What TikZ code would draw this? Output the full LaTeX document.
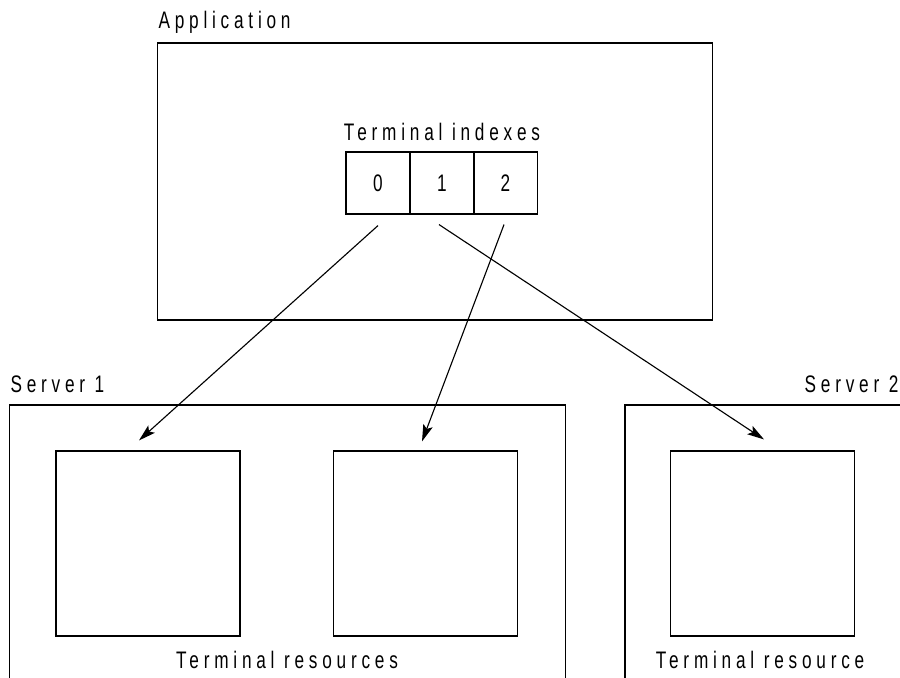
\documentclass[tikz,border=0pt]{standalone}
\usepackage{fontspec}
\setmainfont{Liberation Sans}[FakeStretch=0.72,LetterSpace=20]
\usetikzlibrary{arrows.meta, calc}

\begin{document}
\begin{tikzpicture}[x=0.025cm,y=-0.025cm,line width=0.8pt,
  box/.style={draw,rectangle,inner sep=0pt},
  lbl/.style={inner sep=0pt,font=\fontsize{17}{20}\selectfont},
  arrow/.style={-{Stealth[length=12pt,width=7pt,inset=2.5pt]}}]
\useasboundingbox (0,0) rectangle (900,677);
\clip (0,0) rectangle (900,677);

\node[box,minimum width=13.85cm,minimum height=6.925cm] (app) at (435,181.5) {};
\node[lbl,anchor=base west] (appl) at (158,28) {Application};
\node[lbl,anchor=base] (idxl) at (442,140) {Terminal indexes};

\node[box,lbl,minimum width=1.6cm,minimum height=1.55cm] (c0) at (378,183) {0};
\node[box,lbl,minimum width=1.6cm,minimum height=1.55cm] (c1) at (442,183) {1};
\node[box,lbl,minimum width=1.6cm,minimum height=1.55cm] (c2) at (505.5,183) {2};

\node[box,minimum width=13.875cm,minimum height=7.875cm] (srv1) at (287.5,562.5) {};
\node[box,minimum width=8.125cm,minimum height=7.875cm] (srv2) at (787.5,562.5) {};
\node[lbl,anchor=base west] (srv1l) at (10,392) {Server 1};
\node[lbl,anchor=base east] (srv2l) at (899,392) {Server 2};

\node[box,minimum width=4.6cm,minimum height=4.625cm] (res1) at (148,543.5) {};
\node[box,minimum width=4.6cm,minimum height=4.625cm] (res2) at (425.5,543.5) {};
\node[box,minimum width=4.6cm,minimum height=4.625cm] (res3) at (762.5,543.5) {};
\node[lbl,anchor=base] (res12l) at (287,668) {Terminal resources};
\node[lbl,anchor=base] (res3l) at (760,668) {Terminal resource};

\path[]
($(c0.south)+(0,11)$) edge[arrow] ($(res1.north)+(-9,-10)$)
($(c1.south)+(-3,10)$) edge[arrow] ($(res3.north)+(1.5,-11)$)
($(c2.south)+(-1.5,10)$) edge[arrow] ($(res2.north)+(-3.5,-9)$)
;
\end{tikzpicture}
\end{document}
